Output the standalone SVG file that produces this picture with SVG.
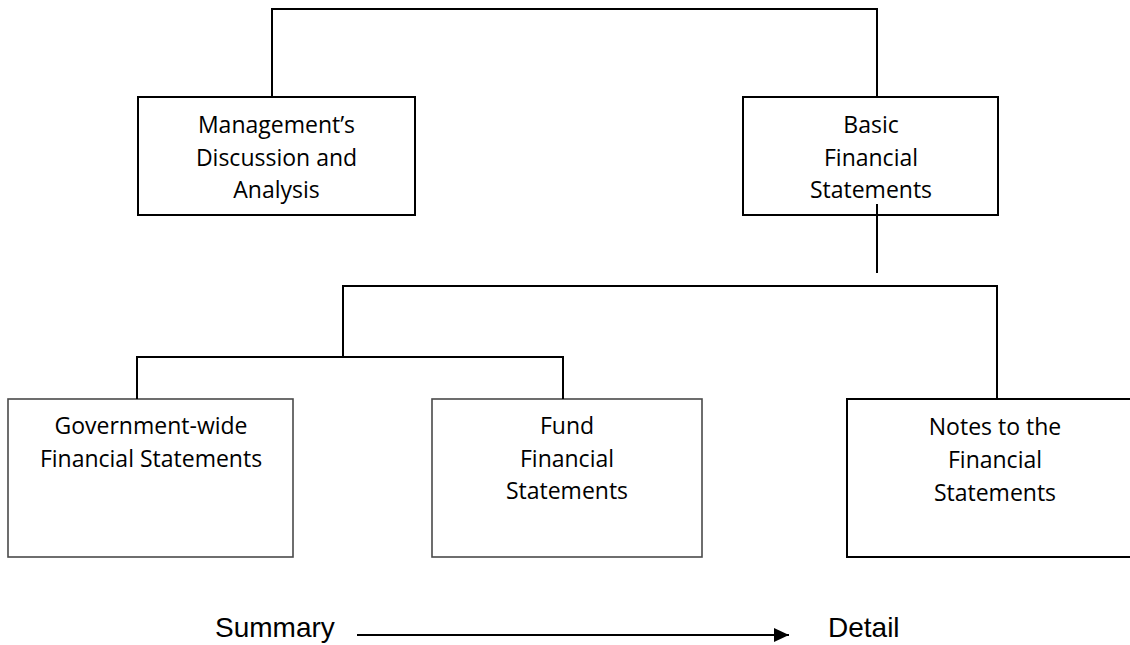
<svg xmlns="http://www.w3.org/2000/svg" width="1130" height="645" viewBox="0 0 1130 645">
<style>
.box{fill:#fff;stroke:#000;stroke-width:2}
.gbox{fill:#fff;stroke:#4a4a4a;stroke-width:1.6}
.lbl{font-family:"Open Sans","Liberation Sans",sans-serif;font-size:23px;fill:#000;text-anchor:middle}
.conn{fill:none;stroke:#000;stroke-width:2}
.cap{font-family:"Liberation Sans",Arial,sans-serif;font-size:28px;fill:#000}
</style>
<defs>
<marker id="ah" markerWidth="16" markerHeight="16" refX="15" refY="8" orient="auto" markerUnits="userSpaceOnUse" viewBox="0 0 16 16">
<path d="M0,1 L15,8 L0,15 Z" fill="#000"/>
</marker>
</defs>
<rect width="1130" height="645" fill="#fff"/>
<g id="mda">
<rect class="box" x="138" y="97" width="277" height="118"/>
<text class="lbl" x="276.5" y="133">Management’s</text>
<text class="lbl" x="276.5" y="166">Discussion and</text>
<text class="lbl" x="276.5" y="198">Analysis</text>
</g>
<g id="basic">
<rect class="box" x="743" y="97" width="255" height="118"/>
<text class="lbl" x="871" y="133">Basic</text>
<text class="lbl" x="871" y="166">Financial</text>
<text class="lbl" x="871" y="198">Statements</text>
</g>
<g id="govwide">
<rect class="gbox" x="8" y="399" width="285" height="158"/>
<text class="lbl" x="151" y="434">Government-wide</text>
<text class="lbl" x="151" y="467">Financial Statements</text>
</g>
<g id="fund">
<rect class="gbox" x="432" y="399" width="270" height="158"/>
<text class="lbl" x="567" y="434">Fund</text>
<text class="lbl" x="567" y="467">Financial</text>
<text class="lbl" x="567" y="499">Statements</text>
</g>
<g id="notes">
<rect class="box" x="847" y="399" width="300" height="158"/>
<text class="lbl" x="995" y="435">Notes to the</text>
<text class="lbl" x="995" y="468">Financial</text>
<text class="lbl" x="995" y="501">Statements</text>
</g>
<g id="connectors">
<path class="conn" d="M272,97 V9 H877 V97"/>
<path class="conn" d="M877,204 V273"/>
<path class="conn" d="M343,357 V286 H997 V399"/>
<path class="conn" d="M137,399 V357 H563 V399"/>
</g>
<g id="scale">
<text class="cap" x="215" y="637">Summary</text>
<line class="conn" x1="357" y1="635" x2="789" y2="635" marker-end="url(#ah)"/>
<text class="cap" x="828" y="637">Detail</text>
</g>
</svg>
